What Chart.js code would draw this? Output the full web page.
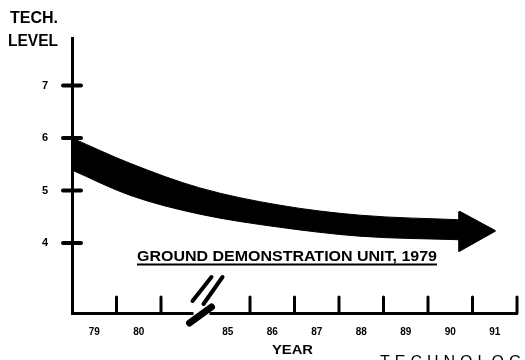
<!DOCTYPE html>
<html>
<head>
<meta charset="utf-8">
<title>Tech level</title>
<script src="https://cdn.jsdelivr.net/npm/chart.js@4"></script>
<style>
  html, body { margin: 0; padding: 0; background: #fff; }
  canvas { display: block; }
</style>
</head>
<body>
<canvas id="chart" width="525" height="360"></canvas>
<script>
// year slots along the bottom axis (third slot is the axis break)
const yearLabels = ["79", "80", "", "85", "86", "87", "88", "89", "90", "91"];
const levelTicks = [4, 5, 6, 7];

// trend band, positions in year slots
const bandPos   = [0, 1.3, 2.87, 4.67, 6.47, 8.8];
const bandUpper = [6.00, 5.52, 5.05, 4.72, 4.53, 4.44];
const bandLower = [5.39, 4.91, 4.55, 4.30, 4.13, 4.06];

// arrow head at the end of the band
const arrowPos   = [8.7, 9.5, 8.7, 8.7];
const arrowLevel = [4.60, 4.23, 3.85, 4.60];

const toPoints = (xs, ys) => xs.map((x, i) => ({ x: x, y: ys[i] }));

const INK = "#000";
const FONT = "'Liberation Sans', Arial, sans-serif";

function fitText(ctx, text, x, y, width, font) {
    ctx.font = font;
    const w = ctx.measureText(text).width;
    ctx.save();
    ctx.translate(x, y);
    ctx.scale(width / w, 1);
    ctx.fillText(text, 0, 0);
    ctx.restore();
}

// tick marks, axis break and the loose labels around the plot
const axisMarks = {
    id: "axisMarks",
    afterDraw(chart) {
        const ctx = chart.ctx;
        const xs = chart.scales.xb;
        const ys = chart.scales.y;
        const area = chart.chartArea;
        ctx.save();
        ctx.strokeStyle = INK;
        ctx.fillStyle = INK;
        ctx.lineCap = "round";

        // year ticks pointing up from the axis
        ctx.lineWidth = 3;
        for (let i = 1; i <= yearLabels.length; i++) {
            if (i === 3) continue;
            const px = xs.getPixelForValue(i);
            ctx.beginPath();
            ctx.moveTo(px, area.bottom);
            ctx.lineTo(px, area.bottom - 16);
            ctx.stroke();
        }

        // level ticks crossing the vertical axis
        ctx.lineWidth = 4;
        levelTicks.forEach(v => {
            const py = ys.getPixelForValue(v);
            ctx.beginPath();
            ctx.moveTo(area.left - 9, py);
            ctx.lineTo(area.left + 9, py);
            ctx.stroke();
        });

        // axis break
        const bx = xs.getPixelForValue(3);
        const by = area.bottom;
        ctx.fillStyle = "#fff";
        ctx.fillRect(bx - 12, by - 3, 16, 6);
        ctx.fillStyle = INK;
        ctx.lineWidth = 4;
        ctx.beginPath();
        ctx.moveTo(bx + 6, by - 36);
        ctx.lineTo(bx - 13, by - 12);
        ctx.moveTo(bx + 17, by - 36);
        ctx.lineTo(bx - 2, by - 9);
        ctx.stroke();
        ctx.lineWidth = 7;
        ctx.beginPath();
        ctx.moveTo(bx - 16, by + 10);
        ctx.lineTo(bx + 6, by - 6);
        ctx.stroke();

        // text
        ctx.textBaseline = "alphabetic";
        ctx.textAlign = "left";
        fitText(ctx, "TECH.", 10, 23, 48, "bold 16px " + FONT);
        fitText(ctx, "LEVEL", 8, 46, 50, "bold 16px " + FONT);
        fitText(ctx, "YEAR", 272, 354, 41, "bold 13px " + FONT);
        fitText(ctx, "GROUND DEMONSTRATION UNIT, 1979", 137, 261, 300, "bold 15px " + FONT);
        ctx.lineWidth = 2;
        ctx.lineCap = "butt";
        ctx.beginPath();
        ctx.moveTo(137, 264.5);
        ctx.lineTo(437, 264.5);
        ctx.stroke();

        ctx.font = "16px " + FONT;
        ctx.letterSpacing = "5px";
        ctx.fillText("TECHNOLOGY", 380, 367);
        ctx.restore();
    }
};

new Chart(document.getElementById("chart"), {
    type: "line",
    data: {
        labels: yearLabels,
        datasets: [
            {
                data: toPoints(bandPos, bandUpper),
                xAxisID: "xb",
                borderColor: INK,
                borderWidth: 1,
                pointRadius: 0,
                cubicInterpolationMode: "monotone",
                fill: false,
            },
            {
                data: toPoints(bandPos, bandLower),
                xAxisID: "xb",
                borderColor: INK,
                borderWidth: 1,
                pointRadius: 0,
                cubicInterpolationMode: "monotone",
                backgroundColor: INK,
                fill: "-1",
            },
            {
                data: toPoints(arrowPos, arrowLevel),
                xAxisID: "xb",
                borderColor: INK,
                borderWidth: 2,
                borderJoinStyle: "round",
                pointRadius: 0,
                tension: 0,
                backgroundColor: INK,
                fill: "shape",
            },
        ],
    },
    options: {
        responsive: false,
        animation: false,
        layout: { padding: { top: 38, right: 8, left: 0, bottom: 0 } },
        plugins: {
            legend: { display: false },
            tooltip: { enabled: false },
        },
        scales: {
            x: {
                type: "category",
                offset: true,
                grid: { display: false },
                border: { display: true, color: INK, width: 3 },
                ticks: {
                    color: INK,
                    padding: 5,
                    maxRotation: 0,
                    autoSkip: false,
                    font: { family: FONT, size: 10, weight: "bold" },
                },
                afterFit(scale) { scale.height = 47; },
            },
            xb: {
                type: "linear",
                display: false,
                min: 0,
                max: 10,
            },
            y: {
                type: "linear",
                min: 2.667,
                max: 7.905,
                grid: { display: false },
                border: { display: true, color: INK, width: 3 },
                afterBuildTicks(scale) {
                    scale.ticks = levelTicks.map(v => ({ value: v }));
                },
                ticks: {
                    color: INK,
                    padding: 16,
                    font: { family: FONT, size: 11, weight: "bold" },
                },
                afterFit(scale) { scale.width = 72; },
            },
        },
    },
    plugins: [axisMarks],
});
</script>
</body>
</html>
